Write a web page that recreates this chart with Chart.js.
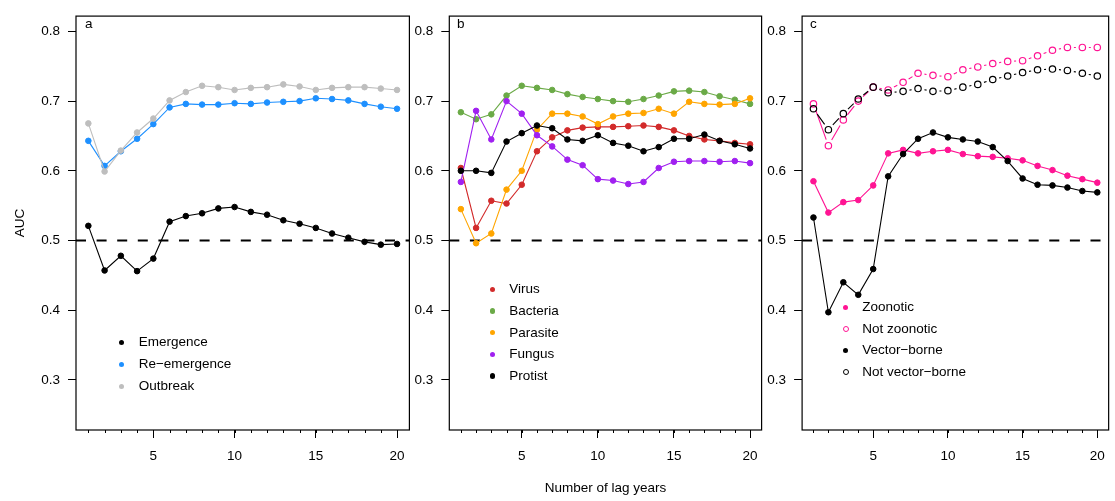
<!DOCTYPE html>
<html><head><meta charset="utf-8">
<script src="https://cdn.jsdelivr.net/npm/chart.js@4/dist/chart.umd.min.js"></script>
<style>
html,body{margin:0;padding:0;background:#fff;}
#wrap{position:relative;width:1115px;height:501px;overflow:hidden;font-family:"Liberation Sans",Arial,sans-serif;color:#000;}
canvas{position:absolute;top:0;}
.txt{position:absolute;font-size:13.5px;line-height:22px;height:22px;white-space:nowrap;}
.dot{position:absolute;border-radius:50%;box-sizing:border-box;}
</style></head>
<body><div id="wrap">
<canvas id="ca" width="420" height="501" style="left:0px"></canvas>
<canvas id="cb" width="365" height="501" style="left:405px"></canvas>
<canvas id="cc" width="355" height="501" style="left:760px"></canvas>
</div>
<script>
// ---------- data ----------
const lagYears = [1,2,3,4,5,6,7,8,9,10,11,12,13,14,15,16,17,18,19,20];
const xTickValues = [5,10,15,20];
const yTickValues = [0.3,0.4,0.5,0.6,0.7,0.8];
const chanceLevel = 0.5;

// panel a
const emergence   = [0.521,0.457,0.478,0.456,0.474,0.527,0.535,0.539,0.546,0.548,0.541,0.537,0.529,0.524,0.518,0.510,0.504,0.498,0.494,0.495];
const reEmergence = [0.643,0.607,0.628,0.646,0.667,0.691,0.696,0.695,0.695,0.697,0.696,0.698,0.699,0.700,0.704,0.703,0.701,0.696,0.692,0.689];
const outbreak    = [0.668,0.599,0.629,0.655,0.675,0.701,0.713,0.722,0.720,0.716,0.719,0.720,0.724,0.721,0.716,0.719,0.720,0.720,0.718,0.716];
// panel b
const virus    = [0.604,0.518,0.557,0.553,0.580,0.628,0.648,0.658,0.662,0.663,0.663,0.664,0.665,0.663,0.658,0.650,0.645,0.643,0.640,0.638];
const bacteria = [0.684,0.674,0.681,0.708,0.722,0.719,0.716,0.710,0.706,0.703,0.700,0.699,0.703,0.708,0.714,0.715,0.713,0.707,0.702,0.696];
const parasite = [0.545,0.496,0.510,0.573,0.600,0.659,0.682,0.682,0.678,0.667,0.678,0.682,0.683,0.689,0.682,0.699,0.696,0.695,0.696,0.704];
const fungus   = [0.584,0.686,0.645,0.700,0.682,0.651,0.635,0.616,0.608,0.588,0.586,0.581,0.584,0.604,0.613,0.614,0.614,0.613,0.614,0.611];
const protist  = [0.600,0.600,0.597,0.642,0.654,0.665,0.661,0.645,0.643,0.651,0.640,0.636,0.628,0.634,0.646,0.646,0.652,0.643,0.638,0.632];
// panel c
const zoonotic       = [0.585,0.540,0.555,0.558,0.579,0.625,0.630,0.625,0.628,0.630,0.624,0.621,0.620,0.618,0.615,0.607,0.601,0.593,0.588,0.583];
const notZoonotic    = [0.696,0.636,0.673,0.700,0.720,0.716,0.727,0.740,0.737,0.735,0.745,0.749,0.754,0.757,0.758,0.765,0.773,0.777,0.777,0.777];
const vectorBorne    = [0.533,0.397,0.440,0.422,0.459,0.592,0.624,0.646,0.655,0.648,0.645,0.642,0.634,0.614,0.589,0.580,0.579,0.576,0.571,0.569];
const notVectorBorne = [0.689,0.659,0.682,0.703,0.720,0.712,0.714,0.718,0.714,0.715,0.720,0.724,0.731,0.736,0.741,0.745,0.746,0.744,0.740,0.736];

// ---------- styling ----------
const FONT = "'Liberation Sans', Arial, Helvetica, sans-serif";
Chart.defaults.font.family = FONT;
Chart.defaults.font.size = 13.5;
Chart.defaults.color = '#000';

const COL = {
  black:'#000000', blue:'#1E90FF', gray:'#BEBEBE',
  red:'#D22B2B', green:'#6BAA47', orange:'#FFA500', purple:'#A020F0',
  pink:'#FF1493'
};

function toPoints(arr){ return arr.map((v,i)=>({x:lagYears[i], y:v})); }

function filledSeries(label, arr, color, order){
  return {label, data:toPoints(arr), borderColor:color, backgroundColor:color,
    pointBackgroundColor:color, pointBorderColor:color, pointRadius:2.8, pointBorderWidth:1,
    borderWidth:1.1, tension:0, showLine:true, order};
}
function openSeries(label, arr, color, order){
  return {label, data:toPoints(arr), borderColor:color, backgroundColor:'rgba(0,0,0,0)',
    pointBackgroundColor:'rgba(0,0,0,0)', pointBorderColor:color, pointRadius:3.2, pointBorderWidth:1.2,
    borderWidth:1.1, showLine:false, gapLine:6.5, order};
}

// box, minor ticks, chance line
const framePlugin = {
  id:'frame',
  beforeDatasetsDraw(chart){
    const {ctx, chartArea:a, scales:{x,y}} = chart;
    ctx.save();
    const yy = y.getPixelForValue(chanceLevel);
    ctx.strokeStyle='#000'; ctx.lineWidth=2; ctx.setLineDash([10,10.6]);
    ctx.beginPath(); ctx.moveTo(a.left, yy); ctx.lineTo(a.right, yy); ctx.stroke();
    ctx.setLineDash([]);
    ctx.restore();
  },
  afterDraw(chart){
    const {ctx, chartArea:a, scales:{x}} = chart;
    ctx.save();
    ctx.strokeStyle='#000'; ctx.lineWidth=1.2;
    ctx.strokeRect(a.left, a.top, a.right-a.left, a.bottom-a.top);
    ctx.lineWidth=1;
    ctx.beginPath();
    lagYears.forEach(v=>{
      const px = Math.round(x.getPixelForValue(v))+0.5;
      ctx.moveTo(px, a.bottom); ctx.lineTo(px, a.bottom+3);
    });
    ctx.stroke();
    ctx.restore();
  }
};
// type="b" style: segments with gaps around points
const gapLinePlugin = {
  id:'gapLine',
  beforeDatasetDraw(chart, args){
    const ds = chart.data.datasets[args.index];
    if(!ds.gapLine) return;
    const pts = args.meta.data, ctx = chart.ctx, g = ds.gapLine;
    ctx.save(); ctx.strokeStyle = ds.borderColor; ctx.lineWidth = ds.borderWidth;
    ctx.beginPath();
    for(let i=0;i<pts.length-1;i++){
      const p=pts[i], q=pts[i+1];
      const dx=q.x-p.x, dy=q.y-p.y, d=Math.hypot(dx,dy);
      if(d<=2*g) continue;
      const f=g/d;
      ctx.moveTo(p.x+dx*f, p.y+dy*f); ctx.lineTo(q.x-dx*f, q.y-dy*f);
    }
    ctx.stroke(); ctx.restore();
  }
};

function makeChart(id, datasets, geo){
  return new Chart(document.getElementById(id), {
    type:'line',
    data:{datasets},
    plugins:[framePlugin, gapLinePlugin],
    options:{
      responsive:false, animation:false, devicePixelRatio:1,
      layout:{padding:{top:9, right:geo.padRight, left:0, bottom:0}},
      plugins:{legend:{display:false}, tooltip:{enabled:false}},
      scales:{
        x:{type:'linear', min:0.24, max:20.76,
          afterBuildTicks:s=>{ s.ticks = xTickValues.map(v=>({value:v})); },
          ticks:{autoSkip:false, maxRotation:0, padding:10, font:{size:13.5}, callback:v=>String(v)},
          grid:{display:true, drawOnChartArea:false, drawTicks:true, tickLength:8, tickColor:'#000', tickWidth:1},
          border:{display:false},
          afterFit:s=>{ s.height = 71; },
          title:{display:!!geo.xTitle, text:'Number of lag years', font:{size:13.5}, padding:{top:0,bottom:5}}
        },
        y:{type:'linear', min:0.228, max:0.822,
          afterBuildTicks:s=>{ s.ticks = yTickValues.map(v=>({value:v})); },
          ticks:{autoSkip:false, padding:8, font:{size:13.5}, callback:v=>v.toFixed(1)},
          grid:{display:true, drawOnChartArea:false, drawTicks:true, tickLength:8, tickColor:'#000', tickWidth:1},
          border:{display:false},
          afterFit:s=>{ s.width = geo.yWidth; },
          title:{display:!!geo.yTitle, text:'AUC', font:{size:13.5}, padding:{top:12,bottom:0}}
        }
      }
    }
  });
}

makeChart('ca', [
  filledSeries('Emergence', emergence, COL.black, 3),
  filledSeries('Re\u2212emergence', reEmergence, COL.blue, 2),
  filledSeries('Outbreak', outbreak, COL.gray, 1)
], {yWidth:76, padRight:10.6, yTitle:true});

makeChart('cb', [
  filledSeries('Virus', virus, COL.red, 5),
  filledSeries('Bacteria', bacteria, COL.green, 4),
  filledSeries('Parasite', parasite, COL.orange, 3),
  filledSeries('Fungus', fungus, COL.purple, 2),
  filledSeries('Protist', protist, COL.black, 1)
], {yWidth:44.3, padRight:8.4, xTitle:true});

makeChart('cc', [
  filledSeries('Zoonotic', zoonotic, COL.pink, 4),
  openSeries('Not zoonotic', notZoonotic, COL.pink, 3),
  filledSeries('Vector\u2212borne', vectorBorne, COL.black, 2),
  openSeries('Not vector\u2212borne', notVectorBorne, COL.black, 1)
], {yWidth:42.1, padRight:0.6});

// ---------- panel letters and legends (HTML text) ----------
const wrap = document.getElementById('wrap');
function addText(str, left, cy){
  const d=document.createElement('div'); d.className='txt'; d.textContent=str;
  d.style.left=left+'px'; d.style.top=(cy-11)+'px'; wrap.appendChild(d);
}
function addDot(cx, cy, color, open, size){
  const d=document.createElement('div'); d.className='dot';
  d.style.width=size+'px'; d.style.height=size+'px';
  d.style.left=(cx-size/2)+'px'; d.style.top=(cy-size/2)+'px';
  if(open){ d.style.border='1px solid '+color; } else { d.style.background=color; }
  wrap.appendChild(d);
}
addText('a', 85, 24); addText('b', 457, 24); addText('c', 810, 24);

const legendA = [['Emergence',COL.black,false],['Re\u2212emergence',COL.blue,false],['Outbreak',COL.gray,false]];
const legendB = [['Virus',COL.red,false],['Bacteria',COL.green,false],['Parasite',COL.orange,false],['Fungus',COL.purple,false],['Protist',COL.black,false]];
const legendC = [['Zoonotic',COL.pink,false],['Not zoonotic',COL.pink,true],['Vector\u2212borne',COL.black,false],['Not vector\u2212borne',COL.black,true]];
function addLegend(items, dotX, textX, y0, step){
  items.forEach((it,i)=>{
    const cy=y0+i*step;
    addDot(dotX, cy, it[1], it[2], it[2]?6:5.3);
    addText(it[0], textX, cy);
  });
}
addLegend(legendA, 121.7, 138.7, 342.3, 22);
addLegend(legendB, 492.3, 509.3, 289.2, 21.7);
addLegend(legendC, 845.5, 862.2, 307.2, 21.6);
</script>
</body></html>
